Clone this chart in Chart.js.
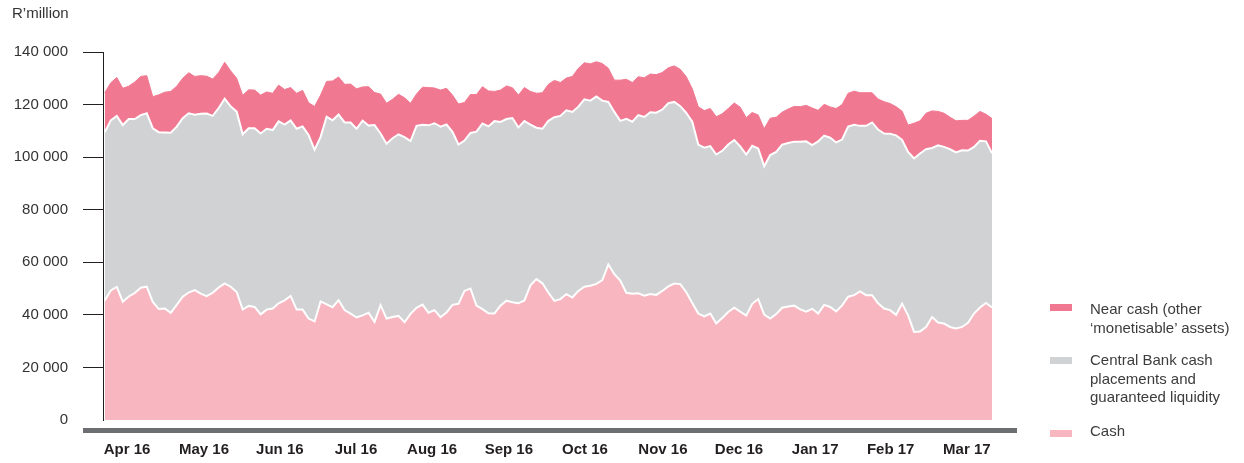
<!DOCTYPE html>
<html>
<head>
<meta charset="utf-8">
<script src="https://cdn.jsdelivr.net/npm/chart.js@4"></script>
<style>
  body { margin: 0; background: #fff; }
  #wrap { position: relative; width: 1244px; height: 463px; font-family: 'Liberation Sans', Arial, sans-serif; }
  .leg { position: absolute; left: 1050px; width: 22px; height: 7px; }
  .leg-txt { position: absolute; left: 1090px; font-size: 15px; line-height: 18.5px; color: #3c3c3c; white-space: nowrap; }
</style>
</head>
<body>
<div id="wrap">
  <canvas id="liqChart"></canvas>
  <!-- legende a droite -->
  <div class="leg" style="top:304px;background:#f17891"></div>
  <div class="leg-txt" style="top:300px">Near cash (other<br>‘monetisable’ assets)</div>
  <div class="leg" style="top:357px;background:#d1d2d4"></div>
  <div class="leg-txt" style="top:351px">Central Bank cash<br>placements and<br>guaranteed liquidity</div>
  <div class="leg" style="top:430px;background:#f8b7c0"></div>
  <div class="leg-txt" style="top:422px">Cash</div>
</div>
<script>
// etiquettes des mois sous l'axe (position en jours ouvres)
const monthLabels = ['Apr 16', 'May 16', 'Jun 16', 'Jul 16', 'Aug 16', 'Sep 16', 'Oct 16', 'Nov 16', 'Dec 16', 'Jan 17', 'Feb 17', 'Mar 17'];
const monthTicks = [3.7, 16.55, 29.2, 41.9, 54.6, 67.4, 80.1, 93.1, 105.8, 118.5, 131.1, 143.8];

// haut de chaque bande empilee, R'million
const cashTop = [
  45500, 49300, 50600, 45000, 47000, 48300, 50300, 50700, 44900, 42200,
  42400, 40800, 43800, 46900, 48500, 49400, 48100, 47100, 48400, 50400,
  52000, 50700, 48700, 42000, 43400, 43000, 40200, 42000, 42400, 44400,
  45500, 47200, 42000, 42000, 38600, 37500, 45100, 44000, 42900, 45600,
  41800, 40500, 39000, 39800, 40800, 37300, 43700, 38600, 39200, 39600,
  37200, 40400, 42700, 43900, 40800, 41800, 39100, 40900, 43800, 44200,
  49100, 50000, 43500, 42200, 40600, 40500, 43500, 45400, 44800, 44400,
  45500, 51200, 53600, 52000, 48400, 45300, 46000, 47900, 46600, 49100,
  50700, 51100, 51800, 53200, 59200, 55500, 53000, 48400, 48000, 48200,
  47300, 47900, 47600, 49100, 50800, 51900, 51700, 48600, 44500, 40500,
  39400, 40500, 36700, 38800, 41100, 42700, 41200, 39700, 44200, 46000,
  40100, 38600, 40300, 42700, 43200, 43500, 42100, 41200, 42300, 40500,
  43800, 43000, 41300, 43600, 46900, 47500, 48900, 47500, 47500, 44400,
  42400, 41800, 40000, 44300, 39800, 33500, 33700, 35400, 39200, 37100,
  36700, 35400, 34800, 35400, 37000, 40500, 42800, 44500, 42800
];
const centralBankTop = [
  109500, 114000, 115700, 112200, 114500, 114500, 116000, 116700, 111000, 109500,
  109400, 109300, 111600, 114800, 116700, 116100, 116500, 116600, 115700, 118700,
  122200, 119300, 117300, 108700, 111000, 111000, 109000, 110800, 110300, 113600,
  112400, 114000, 110800, 111700, 108400, 102800, 107700, 115400, 114000, 116200,
  113200, 113200, 110800, 113900, 112000, 112200, 109000, 105100, 107200, 108700,
  107600, 106100, 111900, 112300, 112100, 112900, 111600, 112400, 109600, 104800,
  106300, 109200, 109700, 112800, 111700, 113700, 113400, 114500, 114900, 111300,
  113700, 112400, 111200, 110800, 113800, 115200, 115700, 117800, 117200, 119200,
  122000, 121500, 123100, 121500, 121000, 117200, 113800, 114600, 113500, 116000,
  115300, 117100, 116900, 118100, 120500, 121000, 119400, 116800, 113500, 104800,
  103600, 104200, 101000, 102400, 104800, 106500, 104100, 101000, 104300, 103300,
  96500, 100800, 102000, 104800, 105400, 105900, 105900, 106000, 104600, 106000,
  108200, 107400, 105600, 106700, 111600, 112300, 111900, 111900, 113200, 110500,
  109000, 108900, 108300, 106600, 102000, 99500, 101400, 103000, 103500, 104500,
  103900, 103000, 101800, 102600, 102500, 103900, 106200, 106000, 101500
];
const nearCashTop = [
  124500, 128300, 130300, 126200, 127000, 128600, 130700, 131000, 123000, 123700,
  124700, 125000, 127000, 130000, 132100, 130700, 131000, 130800, 129700, 132200,
  136100, 132800, 130000, 123500, 125600, 125500, 123600, 124800, 124300, 127400,
  125700, 126500, 124300, 125400, 120700, 119300, 123600, 128800, 129000, 130500,
  127700, 127800, 126000, 126700, 126800, 124600, 124000, 120500, 122000, 123900,
  122600, 120500, 124000, 126600, 126500, 126300, 125500, 126200, 123600, 120200,
  120800, 123800, 123800, 126800, 125200, 125000, 125500, 127100, 126400, 123600,
  126500, 125000, 124300, 124500, 127700, 129200, 128400, 130100, 130700, 133800,
  135900, 135500, 136300, 135600, 133800, 129300, 129300, 129600, 128400, 130600,
  130200, 131600, 131400, 132200, 134000, 134700, 133400, 130600, 126000, 119200,
  117700, 118500, 115400, 116500, 118500, 120600, 119000, 115000, 117000, 116000,
  110800, 114800, 115200, 117100, 118300, 119300, 119200, 119700, 118700, 117800,
  120100, 119100, 118500, 120000, 124300, 125100, 124500, 124500, 124500, 122100,
  121100, 120400, 119200, 117500, 112200, 112900, 113800, 116700, 117600, 117400,
  116700, 115200, 113800, 114000, 114000, 115600, 117400, 116300, 114700
];
const days = cashTop.map((_, i) => i);

// format "140 000"
const fmt = v => String(v).replace(/\B(?=(\d{3})+(?!\d))/g, ' ');

// la barre grise sous le graphe
const baseBar = {
  id: 'baseBar',
  afterDraw(chart) {
    const { ctx, chartArea: a } = chart;
    ctx.save();
    ctx.fillStyle = '#6d6e71';
    ctx.fillRect(a.left - 20, a.bottom + 8, a.right - a.left + 45, 5);
    ctx.restore();
  }
};

Chart.defaults.font.family = "'Liberation Sans', Arial, sans-serif";

new Chart(document.getElementById('liqChart'), {
  type: 'line',
  data: {
    labels: days,
    datasets: [{
      label: 'Cash',
      data: cashTop,
      fill: 'origin',
      backgroundColor: '#f8b7c0',
      borderColor: '#ffffff',
      borderWidth: 2
    }, {
      label: 'Central Bank cash placements and guaranteed liquidity',
      data: centralBankTop,
      fill: '-1',
      backgroundColor: '#d1d2d4',
      borderColor: '#ffffff',
      borderWidth: 2
    }, {
      label: 'Near cash (other ‘monetisable’ assets)',
      data: nearCashTop,
      fill: '-1',
      backgroundColor: '#f17891',
      borderColor: '#f17891',
      borderWidth: 1
    }]
  },
  options: {
    responsive: true,
    maintainAspectRatio: false,
    animation: false,
    elements: { point: { radius: 0 }, line: { tension: 0 } },
    layout: { padding: { left: 12, right: 252, top: 0, bottom: 0 } },
    plugins: {
      legend: { display: false },
      tooltip: { enabled: false },
      title: {
        display: true,
        text: 'R’million',
        align: 'start',
        color: '#333333',
        font: { size: 15, weight: 'normal' },
        padding: { top: 5, bottom: 29 }
      }
    },
    scales: {
      x: {
        type: 'linear',
        min: -0.3,
        max: 148,
        grid: { display: false, drawTicks: false },
        border: { display: false },
        afterBuildTicks: s => { s.ticks = monthTicks.map(v => ({ value: v })); },
        afterFit: s => { s.height = 43; },
        ticks: {
          autoSkip: false,
          maxRotation: 0,
          padding: 21,
          color: '#231f20',
          font: { size: 15, weight: 'bold' },
          callback: (v, i) => monthLabels[i]
        }
      },
      y: {
        min: 0,
        max: 140000,
        afterFit: s => { s.width = 91; },
        ticks: { stepSize: 20000, padding: 15, color: '#333333', font: { size: 15 }, callback: v => fmt(v) },
        grid: {
          drawOnChartArea: false,
          tickLength: 20,
          color: c => (c.tick && c.tick.value === 0) ? 'rgba(0,0,0,0)' : '#231f20'
        },
        border: { color: '#231f20', width: 1 }
      }
    }
  },
  plugins: [baseBar]
});
</script>
</body>
</html>
